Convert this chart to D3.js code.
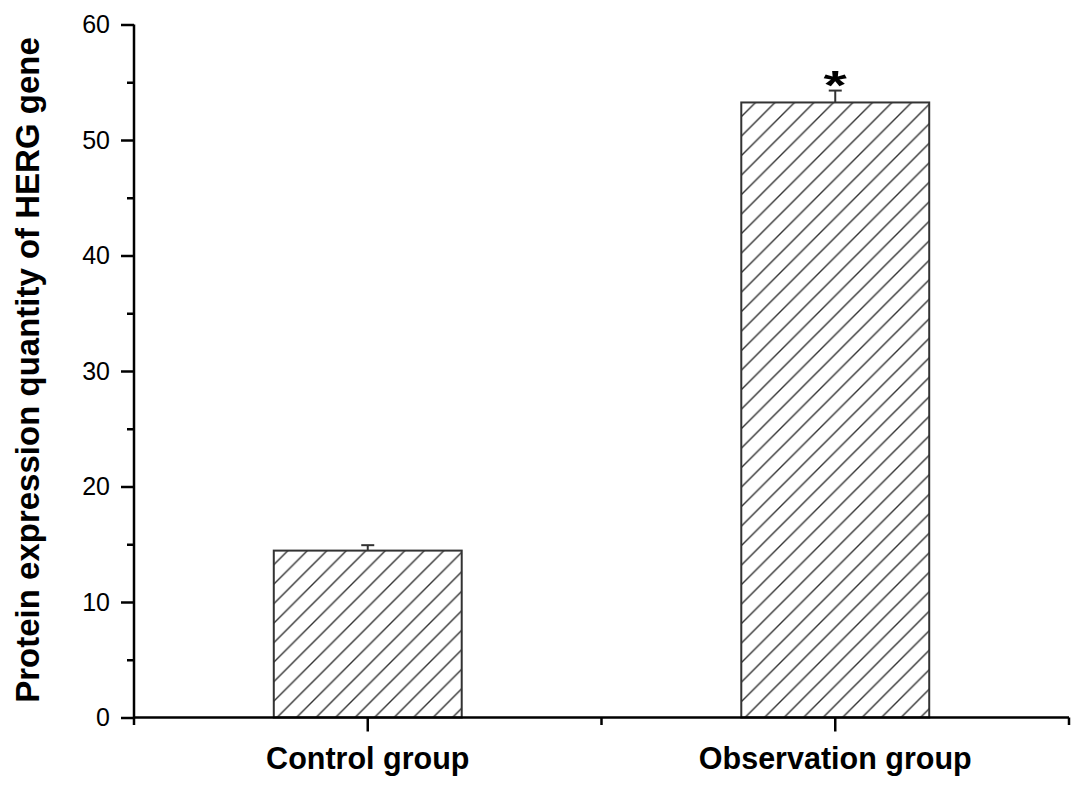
<!DOCTYPE html>
<html>
<head>
<meta charset="utf-8">
<script src="https://cdn.jsdelivr.net/npm/d3@7"></script>
<style>
  html, body { margin: 0; padding: 0; background: #fff; }
  svg { display: block; }
  text { font-family: "Liberation Sans", Arial, sans-serif; fill: #000; }
</style>
</head>
<body>
<svg id="chart" width="1087" height="789"></svg>
<script>
// ---- data ----
const categories = ["Control group", "Observation group"];
const values = [14.45, 53.25];
const errors = [0.47, 1.03];
const significance = ["", "*"];
const yTickValues = [0, 10, 20, 30, 40, 50, 60];
const yMinorTickValues = [5, 15, 25, 35, 45, 55];
const yTitle = "Protein expression quantity of HERG gene";

// ---- layout ----
const svg = d3.select("#chart");
const plotLeft = 134, plotRight = 1069, plotTop = 24.5, plotBottom = 717.5;

const x = d3.scaleBand().domain(categories).range([plotLeft, plotRight]).paddingInner(0).paddingOuter(0);
const y = d3.scaleLinear().domain([0, 60]).range([plotBottom, plotTop]);

// hatch pattern
const hs = 19.5;
const defs = svg.append("defs");
const pat = defs.append("pattern")
  .attr("id", "hatch")
  .attr("patternUnits", "userSpaceOnUse")
  .attr("width", hs).attr("height", hs);
pat.append("rect").attr("width", hs).attr("height", hs).attr("fill", "#fff");
pat.append("path")
  .attr("d", `M${-hs/4},${hs/4} L${hs/4},${-hs/4} M0,${hs} L${hs},0 M${hs*3/4},${hs*5/4} L${hs*5/4},${hs*3/4}`)
  .attr("stroke", "#333").attr("stroke-width", 1.4);

const barW = x.bandwidth() * 0.402;
const cx = d => x(d) + x.bandwidth() / 2;

// bars
svg.append("g").selectAll("rect")
  .data(categories)
  .join("rect")
  .attr("x", d => cx(d) - barW / 2)
  .attr("y", (d, i) => y(values[i]))
  .attr("width", barW)
  .attr("height", (d, i) => y(0) - y(values[i]))
  .attr("fill", "url(#hatch)")
  .attr("stroke", "#333")
  .attr("stroke-width", 2);

// error bars (upper only)
const eb = svg.append("g").attr("stroke", "#333").attr("stroke-width", 2);
categories.forEach((c, i) => {
  eb.append("line")
    .attr("x1", cx(c)).attr("x2", cx(c))
    .attr("y1", y(values[i])).attr("y2", y(values[i] + errors[i]));
  eb.append("line")
    .attr("x1", cx(c) - 6.5).attr("x2", cx(c) + 6.5)
    .attr("y1", y(values[i] + errors[i])).attr("y2", y(values[i] + errors[i]));
});

// significance markers
svg.append("g").selectAll("text")
  .data(categories)
  .join("text")
  .attr("transform", (d, i) => `translate(${cx(d)},${y(values[i] + errors[i]) + 8}) scale(1.3,0.9)`)
  .attr("text-anchor", "middle")
  .attr("font-size", 46)
  .attr("font-weight", "bold")
  .text((d, i) => significance[i]);

// y axis
const yAxis = svg.append("g").attr("transform", `translate(${plotLeft},0)`);
yAxis.call(d3.axisLeft(y).tickValues(yTickValues).tickSize(13).tickPadding(11).tickFormat(d3.format("d")))
  .call(g => g.select(".domain").attr("stroke", "#000").attr("stroke-width", 2.5).attr("d", `M0,${plotBottom}V${plotTop}`))
  .call(g => g.selectAll(".tick line").attr("stroke", "#000").attr("stroke-width", 2.5))
  .call(g => g.selectAll(".tick text").attr("font-size", 25).attr("font-family", "Liberation Sans, Arial, sans-serif").attr("fill", "#000"));
const yMinor = svg.append("g").attr("transform", `translate(${plotLeft},0)`);
yMinor.call(d3.axisLeft(y).tickValues(yMinorTickValues).tickSize(7).tickFormat(""))
  .call(g => g.select(".domain").remove())
  .call(g => g.selectAll(".tick line").attr("stroke", "#000").attr("stroke-width", 2.5));

// x axis
const xAxis = svg.append("g").attr("transform", `translate(0,${plotBottom})`);
xAxis.call(d3.axisBottom(x).tickSize(14).tickPadding(16))
  .call(g => g.select(".domain").attr("stroke", "#000").attr("stroke-width", 2.5).attr("d", `M${plotLeft},0H${plotRight}`))
  .call(g => g.selectAll(".tick line").attr("stroke", "#000").attr("stroke-width", 2.5))
  .call(g => g.selectAll(".tick text").attr("font-size", 30.5).attr("font-weight", "bold").attr("font-family", "Liberation Sans, Arial, sans-serif").attr("fill", "#000"));
// x minor ticks at band boundaries
const bounds = categories.map(c => x(c)).concat([x(categories[categories.length - 1]) + x.bandwidth()]);
svg.append("g").selectAll("line")
  .data(bounds)
  .join("line")
  .attr("x1", d => d).attr("x2", d => d)
  .attr("y1", plotBottom).attr("y2", plotBottom + 7.5)
  .attr("stroke", "#000").attr("stroke-width", 2.5);

// y title
svg.append("text")
  .attr("transform", `translate(${39},${(37 + 703) / 2}) rotate(-90)`)
  .attr("text-anchor", "middle")
  .attr("font-size", 33)
  .attr("font-weight", "bold")
  .text(yTitle);
</script>
</body>
</html>
